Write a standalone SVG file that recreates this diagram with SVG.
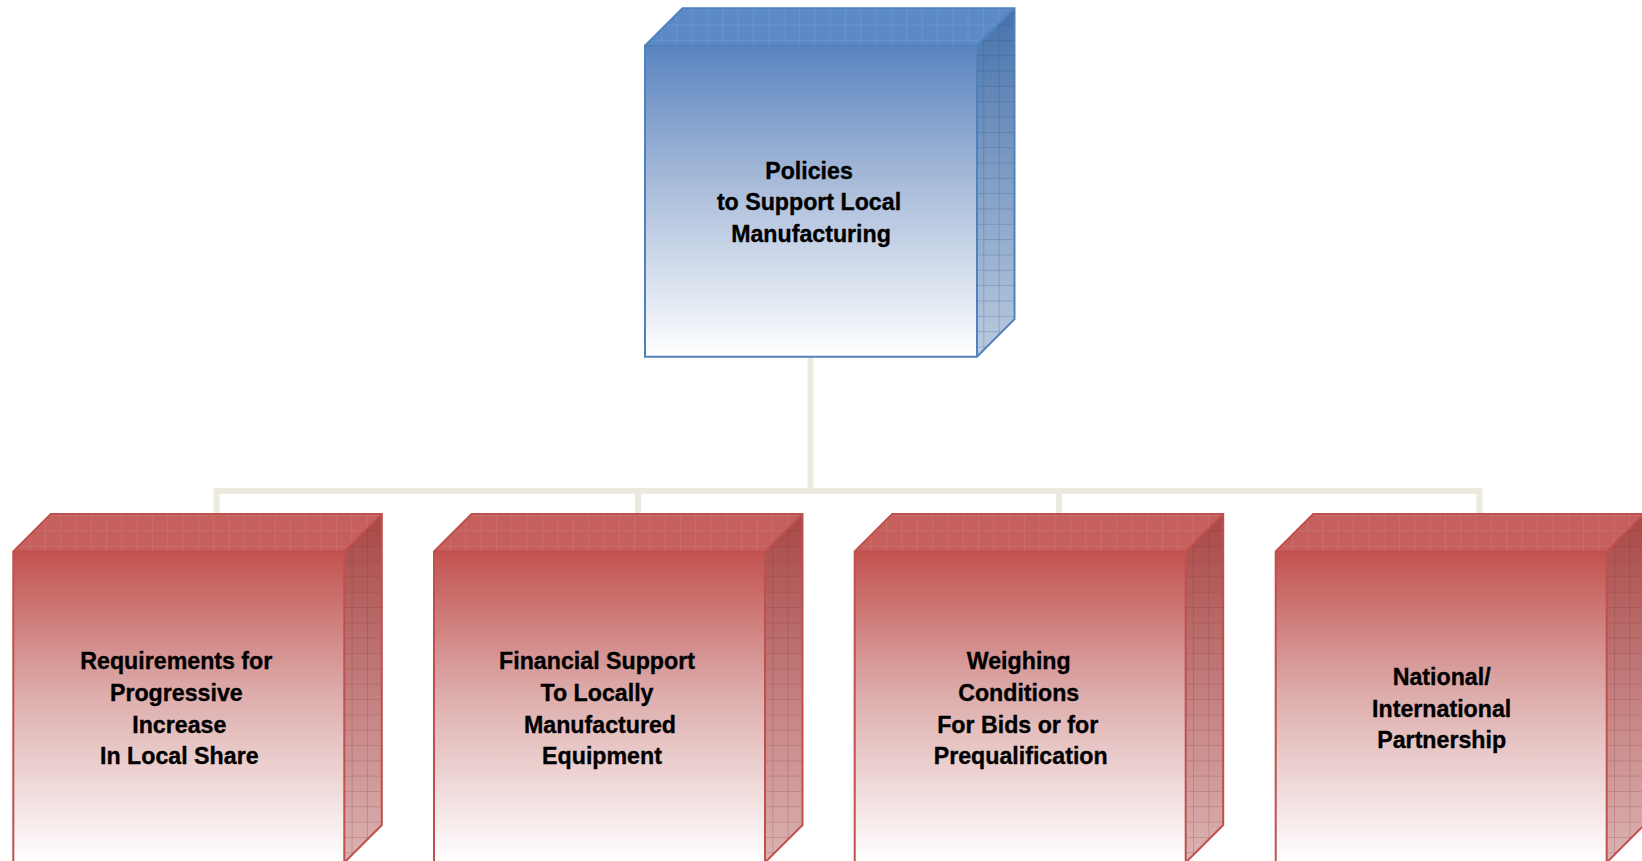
<svg xmlns="http://www.w3.org/2000/svg" width="1642" height="861" viewBox="0 0 1642 861">
  <defs>
    <!-- front face fades from the accent colour down to white -->
    <linearGradient id="frontRed" x1="0" y1="0" x2="0" y2="1">
      <stop offset="0" stop-color="#c2524f"/>
      <stop offset="0.45" stop-color="#dcabaa"/>
      <stop offset="1" stop-color="#ffffff"/>
    </linearGradient>
    <linearGradient id="frontBlue" x1="0" y1="0" x2="0" y2="1">
      <stop offset="0" stop-color="#5a84c0"/>
      <stop offset="0.45" stop-color="#a9bcda"/>
      <stop offset="1" stop-color="#ffffff"/>
    </linearGradient>
    <linearGradient id="sideRed" x1="0" y1="0" x2="0" y2="1">
      <stop offset="0" stop-color="#a84846"/>
      <stop offset="1" stop-color="#dcb3b3"/>
    </linearGradient>
    <linearGradient id="sideBlue" x1="0" y1="0" x2="0" y2="1">
      <stop offset="0" stop-color="#4672ab"/>
      <stop offset="1" stop-color="#bccbe0"/>
    </linearGradient>
    <!-- grid textures for the top and side faces -->
    <pattern id="gridLight" patternUnits="userSpaceOnUse" x="0.7" y="9.5" width="15.33" height="15.33">
      <path d="M0 0 H15.33 M0 0 V15.33" fill="none" stroke="#ffffff" stroke-opacity="0.16" stroke-width="1"/>
    </pattern>
    <pattern id="gridDarkRed" patternUnits="userSpaceOnUse" x="1.07" y="9.5" width="15.33" height="15.33">
      <path d="M0 0 H15.33 M0 0 V15.33" fill="none" stroke="#7a2624" stroke-opacity="0.4" stroke-width="1"/>
    </pattern>
    <pattern id="gridDarkBlue" patternUnits="userSpaceOnUse" x="1.07" y="9.5" width="15.33" height="15.33">
      <path d="M0 0 H15.33 M0 0 V15.33" fill="none" stroke="#224677" stroke-opacity="0.45" stroke-width="1"/>
    </pattern>
  </defs>
  <style>
    .conn { fill: none; stroke: #eceadf; stroke-width: 6; stroke-linejoin: miter; }
    .red .front { fill: url(#frontRed); }
    .red .top { fill: #c5605d; }
    .red .side { fill: url(#sideRed); }
    .red .gside { fill: url(#gridDarkRed); }
    .red .edge { fill: none; stroke: #c0504d; stroke-width: 2; stroke-linejoin: miter; }
    .blue .front { fill: url(#frontBlue); }
    .blue .top { fill: #5b8ac6; }
    .blue .side { fill: url(#sideBlue); }
    .blue .gside { fill: url(#gridDarkBlue); }
    .blue .edge { fill: none; stroke: #4f81bd; stroke-width: 2; stroke-linejoin: miter; }
    .gtop { fill: url(#gridLight); }
    .label { font-family: "Liberation Sans", Arial, sans-serif; font-weight: bold; font-size: 23.2px; fill: #000000; stroke: #000000; stroke-width: 0.35; text-anchor: middle; }
  </style>

  <rect width="1642" height="861" fill="#ffffff"/>

  <!-- connectors -->
  <g id="connectors">
    <path class="conn" d="M810.5 357 V491"/>
    <path class="conn" d="M216.5 514 V491 H1479.5 V514"/>
    <path class="conn" d="M638 491 V514"/>
    <path class="conn" d="M1059 491 V514"/>
  </g>

  <!-- root node -->
  <g id="node-policies" class="blue" transform="translate(645,45.7)">
    <polygon class="top" points="0,0 37.5,-37.5 369.5,-37.5 332,0"/>
    <polygon class="gtop" points="0,0 37.5,-37.5 369.5,-37.5 332,0"/>
    <polygon class="side" points="332,0 369.5,-37.5 369.5,273.5 332,311"/>
    <polygon class="gside" points="332,0 369.5,-37.5 369.5,273.5 332,311"/>
    <rect class="front" x="0" y="0" width="332" height="311"/>
    <path class="edge" d="M0 0 L37.5 -37.5 H369.5 V273.5 L332 311 H0 Z M0 0 H332 V311 M332 0 L369.5 -37.5"/>
    <text class="label" x="164" y="133.3">Policies</text>
    <text class="label" x="164" y="164.8">to Support Local</text>
    <text class="label" x="166" y="196.3">Manufacturing</text>
  </g>

  <g id="node-requirements" class="red" transform="translate(13.3,551.5)">
    <polygon class="top" points="0,0 37.5,-37.5 368.5,-37.5 331,0"/>
    <polygon class="gtop" points="0,0 37.5,-37.5 368.5,-37.5 331,0"/>
    <polygon class="side" points="331,0 368.5,-37.5 368.5,273.5 331,311"/>
    <polygon class="gside" points="331,0 368.5,-37.5 368.5,273.5 331,311"/>
    <rect class="front" x="0" y="0" width="331" height="311"/>
    <path class="edge" d="M0 0 L37.5 -37.5 H368.5 V273.5 L331 311 H0 Z M0 0 H331 V311 M331 0 L368.5 -37.5"/>
    <text class="label" x="163" y="117.5">Requirements for</text>
    <text class="label" x="163" y="149.3">Progressive</text>
    <text class="label" x="166" y="181.1">Increase</text>
    <text class="label" x="166" y="212.9">In Local Share</text>
  </g>

  <g id="node-financial" class="red" transform="translate(434,551.5)">
    <polygon class="top" points="0,0 37.5,-37.5 368.5,-37.5 331,0"/>
    <polygon class="gtop" points="0,0 37.5,-37.5 368.5,-37.5 331,0"/>
    <polygon class="side" points="331,0 368.5,-37.5 368.5,273.5 331,311"/>
    <polygon class="gside" points="331,0 368.5,-37.5 368.5,273.5 331,311"/>
    <rect class="front" x="0" y="0" width="331" height="311"/>
    <path class="edge" d="M0 0 L37.5 -37.5 H368.5 V273.5 L331 311 H0 Z M0 0 H331 V311 M331 0 L368.5 -37.5"/>
    <text class="label" x="163" y="117.5">Financial Support</text>
    <text class="label" x="163" y="149.3">To Locally</text>
    <text class="label" x="166" y="181.1">Manufactured</text>
    <text class="label" x="168" y="212.9">Equipment</text>
  </g>

  <g id="node-weighing" class="red" transform="translate(854.7,551.5)">
    <polygon class="top" points="0,0 37.5,-37.5 368.5,-37.5 331,0"/>
    <polygon class="gtop" points="0,0 37.5,-37.5 368.5,-37.5 331,0"/>
    <polygon class="side" points="331,0 368.5,-37.5 368.5,273.5 331,311"/>
    <polygon class="gside" points="331,0 368.5,-37.5 368.5,273.5 331,311"/>
    <rect class="front" x="0" y="0" width="331" height="311"/>
    <path class="edge" d="M0 0 L37.5 -37.5 H368.5 V273.5 L331 311 H0 Z M0 0 H331 V311 M331 0 L368.5 -37.5"/>
    <text class="label" x="164" y="117.5">Weighing</text>
    <text class="label" x="164" y="149.3">Conditions</text>
    <text class="label" x="163" y="181.1">For Bids or for</text>
    <text class="label" x="166" y="212.9">Prequalification</text>
  </g>

  <g id="node-partnership" class="red" transform="translate(1275.7,551.5)">
    <polygon class="top" points="0,0 37.5,-37.5 368.5,-37.5 331,0"/>
    <polygon class="gtop" points="0,0 37.5,-37.5 368.5,-37.5 331,0"/>
    <polygon class="side" points="331,0 368.5,-37.5 368.5,273.5 331,311"/>
    <polygon class="gside" points="331,0 368.5,-37.5 368.5,273.5 331,311"/>
    <rect class="front" x="0" y="0" width="331" height="311"/>
    <path class="edge" d="M0 0 L37.5 -37.5 H368.5 V273.5 L331 311 H0 Z M0 0 H331 V311 M331 0 L368.5 -37.5"/>
    <text class="label" x="166" y="133.5">National/</text>
    <text class="label" x="166" y="165.2">International</text>
    <text class="label" x="166" y="196">Partnership</text>
  </g>
</svg>
